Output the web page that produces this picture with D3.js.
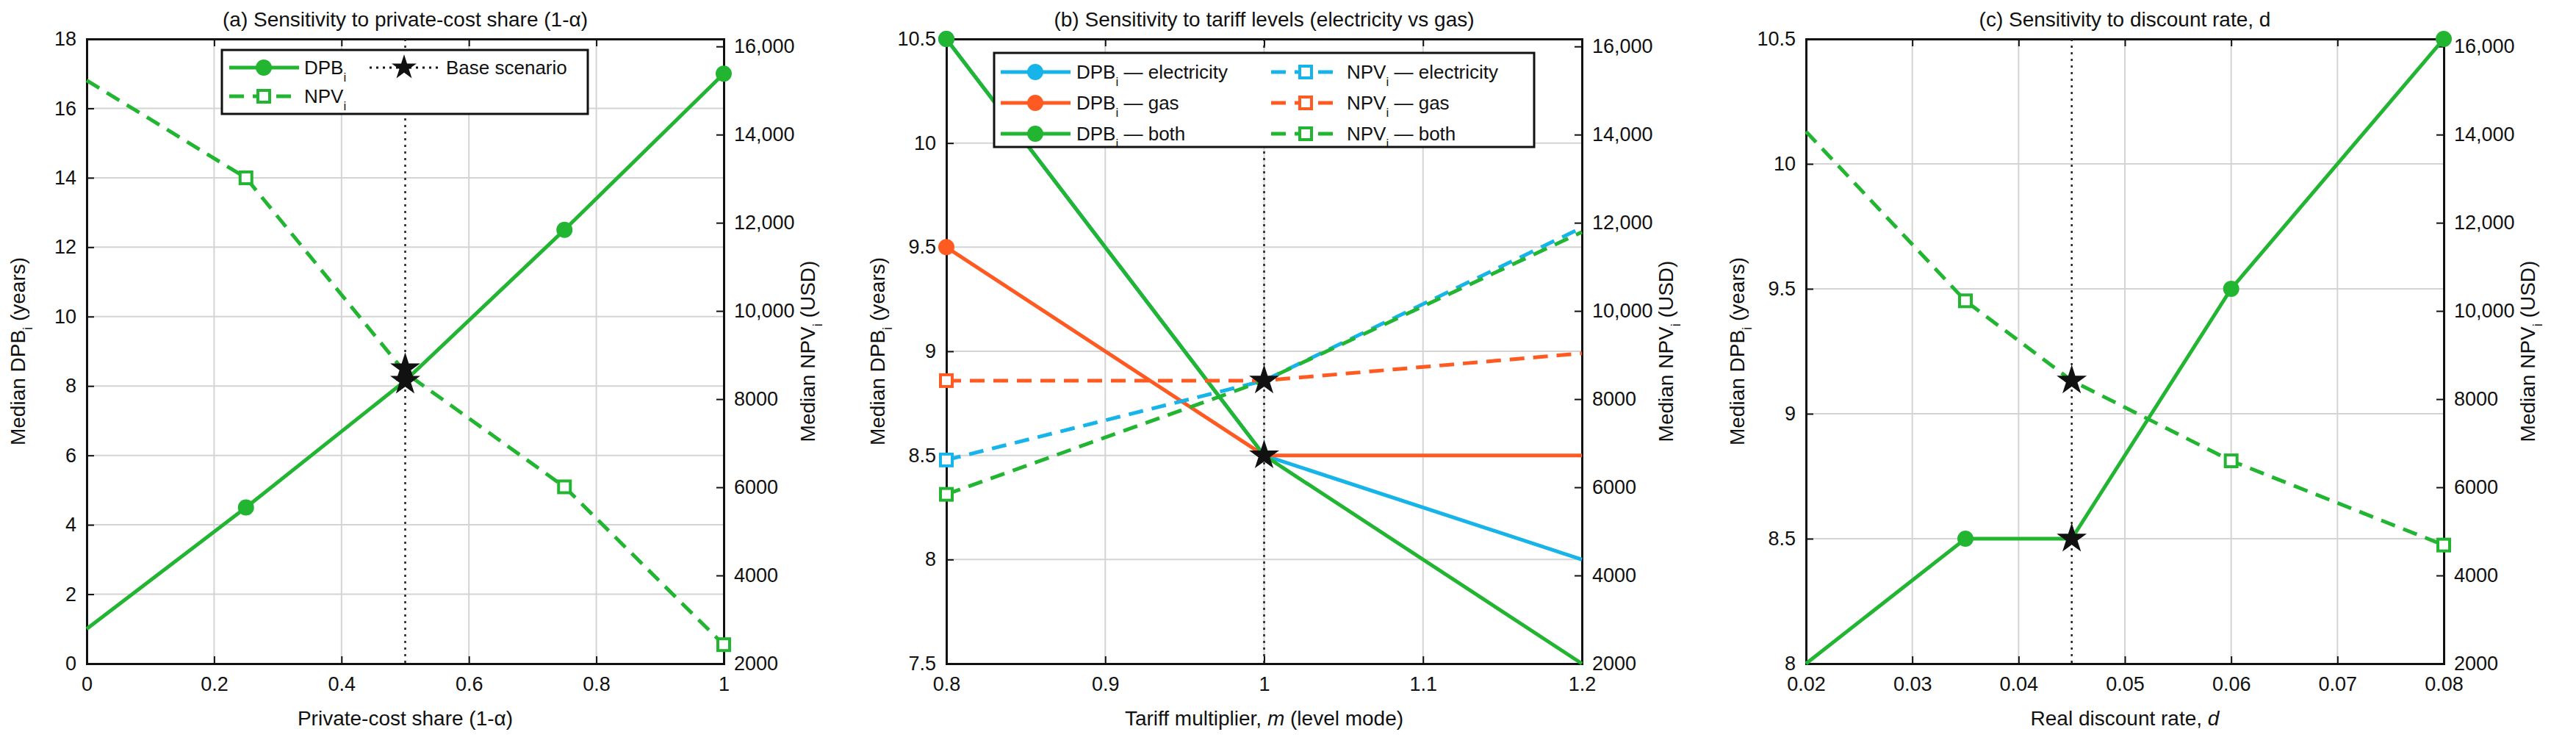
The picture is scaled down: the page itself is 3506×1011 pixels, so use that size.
<!DOCTYPE html>
<html>
<head>
  <style>
    html, body { margin: 0; padding: 0; background: #fff; }
    text { font-family: "Liberation Sans", Arial, sans-serif; fill: #111; }
    .grid line { stroke: #d4d4d4; stroke-width: 2; }
  </style>
  <script src="https://d3js.org/d3.v7.min.js"></script>
</head>
<body>
<svg id="fig" width="3506" height="1011"></svg>
<script>
    const green = "#22b532", blue = "#17b4ea", orange = "#ff5a22";

    // (a) private-cost share
    const aX = [0, 0.25, 0.5, 0.75, 1];
    const aDPB = [1, 4.5, 8.15, 12.5, 17];
    const aNPV = [15230, 13020, 8600, 6010, 2430];
    const aBase = { x: 0.5, dpb: 8.15, npv: 8700 };

    // (b) tariff multiplier
    const bX = [0.8, 1, 1.2];
    const bDPBelec = [10.5, 8.5, 8.0];
    const bDPBgas = [9.5, 8.5, 8.5];
    const bDPBboth = [10.5, 8.5, 7.5];
    const bNPVelec = [6620, 8420, 11890];
    const bNPVgas = [8420, 8420, 9040];
    const bNPVboth = [5840, 8420, 11790];
    const bBase = { x: 1, dpb: 8.5, npv: 8420 };

    // (c) discount rate
    const cX = [0.02, 0.035, 0.045, 0.06, 0.08];
    const cDPB = [8, 8.5, 8.5, 9.5, 10.5];
    const cNPV = [14070, 10230, 8420, 6600, 4690];
    const cBase = { x: 0.045, dpb: 8.5, npv: 8420 };

    const rightTicks = [2000, 4000, 6000, 8000, 10000, 12000, 14000, 16000];
    const fmtRight = v => v >= 10000 ? d3.format(",")(v) : String(v);

    const svg = d3.select("#fig");
    const plotTop = 53, plotBottom = 903;

    function subLabel(g, parts) {
      // parts: array of [text, isSub]
      parts.forEach(([t, sub]) => {
        const ts = g.append("tspan").text(t);
        if (sub) ts.attr("baseline-shift", "sub").attr("font-size", "0.65em");
      });
    }

    function panel(p) {
      const g = svg.append("g");
      const x = d3.scaleLinear().domain(p.xDomain).range([p.left, p.right]);
      const y = d3.scaleLinear().domain(p.yDomain).range([plotBottom, plotTop]);
      const y2 = d3.scaleLinear().domain([2000, 16170]).range([plotBottom, plotTop]);

      // grid
      const grid = g.append("g").attr("class", "grid");
      grid.selectAll(".gx").data(p.xTicks).enter().append("line")
        .attr("x1", d => x(d)).attr("x2", d => x(d)).attr("y1", plotTop).attr("y2", plotBottom);
      grid.selectAll(".gy").data(p.yTicks).enter().append("line")
        .attr("x1", p.left).attr("x2", p.right).attr("y1", d => y(d)).attr("y2", d => y(d));

      // axes (inward ticks)
      g.append("g").attr("transform", `translate(0,${plotBottom})`)
        .call(d3.axisBottom(x).tickValues(p.xTicks).tickSize(-10).tickPadding(18).tickFormat(p.xFmt));
      g.append("g").attr("transform", `translate(0,${plotTop})`)
        .call(d3.axisTop(x).tickValues(p.xTicks).tickSize(-10).tickFormat(""));
      g.append("g").attr("transform", `translate(${p.left},0)`)
        .call(d3.axisLeft(y).tickValues(p.yTicks).tickSize(-10).tickPadding(14).tickFormat(p.yFmt));
      g.append("g").attr("transform", `translate(${p.right},0)`)
        .call(d3.axisRight(y2).tickValues(rightTicks).tickSize(-10).tickPadding(14).tickFormat(fmtRight));
      g.selectAll(".domain").attr("stroke", "#111").attr("stroke-width", 3);
      g.selectAll(".tick line").attr("stroke", "#111").attr("stroke-width", 2);
      g.selectAll(".tick text").attr("font-size", "27px").attr("fill", "#111")
        .attr("font-family", "Liberation Sans, Arial, sans-serif");

      // base vertical dotted line
      g.append("line").attr("x1", x(p.base.x)).attr("x2", x(p.base.x))
        .attr("y1", plotTop).attr("y2", plotBottom)
        .attr("stroke", "#222").attr("stroke-width", 2.5).attr("stroke-dasharray", "3,6");

      // series
      p.series.forEach(s => {
        const sc = s.right ? y2 : y;
        const pts = p.xs.map((v, i) => [x(v), sc(s.values[i])]);
        g.append("path").datum(pts)
          .attr("d", d3.line())
          .attr("fill", "none").attr("stroke", s.color).attr("stroke-width", 5)
          .attr("stroke-dasharray", s.right ? "20,12" : null);
        s.markers.forEach(i => {
          const [px, py] = pts[i];
          if (s.right) {
            g.append("rect").attr("x", px - 8).attr("y", py - 8).attr("width", 16).attr("height", 16)
              .attr("fill", "#fff").attr("stroke", s.color).attr("stroke-width", 4);
          } else {
            g.append("circle").attr("cx", px).attr("cy", py).attr("r", 11).attr("fill", s.color);
          }
        });
      });

      // base stars
      const star = d3.symbol().type(d3.symbolStar).size(520);
      [y(p.base.dpb), y2(p.base.npv)].forEach(py => {
        g.append("path").attr("d", star).attr("transform", `translate(${x(p.base.x)},${py})`)
          .attr("fill", "#111");
      });

      // title & labels
      g.append("text").attr("x", (p.left + p.right) / 2).attr("y", 36)
        .attr("text-anchor", "middle").attr("font-size", "28px").text(p.title);
      const xl = g.append("text").attr("x", (p.left + p.right) / 2).attr("y", 987)
        .attr("text-anchor", "middle").attr("font-size", "28px");
      p.xLabel.forEach(([t, it]) => { const ts = xl.append("tspan").text(t); if (it) ts.attr("font-style", "italic"); });
      const yl = g.append("text").attr("transform", `translate(${p.left - 84},${(plotTop + plotBottom) / 2}) rotate(-90)`)
        .attr("text-anchor", "middle").attr("font-size", "28px");
      subLabel(yl, [["Median DPB", false], ["i", true], [" (years)", false]]);
      const yr = g.append("text").attr("transform", `translate(${p.right + 124},${(plotTop + plotBottom) / 2}) rotate(-90)`)
        .attr("text-anchor", "middle").attr("font-size", "28px");
      subLabel(yr, [["Median NPV", false], ["i", true], [" (USD)", false]]);

      if (p.legend) p.legend(g);
    }

    function legendLine(g, x0, yy, color, dashed, marker) {
      g.append("line").attr("x1", x0).attr("x2", x0 + 95).attr("y1", yy).attr("y2", yy)
        .attr("stroke", color).attr("stroke-width", marker === "star" ? 3 : 5)
        .attr("stroke-dasharray", dashed ? "20,12" : (marker === "star" ? "3,6" : null));
      const cx = x0 + 47;
      if (marker === "circle") g.append("circle").attr("cx", cx).attr("cy", yy).attr("r", 11).attr("fill", color);
      if (marker === "square") g.append("rect").attr("x", cx - 8).attr("y", yy - 8).attr("width", 16).attr("height", 16)
        .attr("fill", "#fff").attr("stroke", color).attr("stroke-width", 4);
      if (marker === "star") g.append("path").attr("d", d3.symbol().type(d3.symbolStar).size(360))
        .attr("transform", `translate(${cx},${yy})`).attr("fill", "#111");
    }
    function legendText(g, x0, yy, name, rest) {
      const t = g.append("text").attr("x", x0).attr("y", yy + 9).attr("font-size", "26px");
      subLabel(t, [[name, false], ["i", true], [rest, false]]);
    }

    panel({
      left: 118, right: 985, xDomain: [0, 1], yDomain: [0, 18],
      xTicks: [0, 0.2, 0.4, 0.6, 0.8, 1], yTicks: d3.range(0, 19, 2),
      xFmt: d => String(d), yFmt: d => String(d),
      xs: aX, base: aBase,
      title: "(a) Sensitivity to private-cost share (1-\u03b1)",
      xLabel: [["Private-cost share (1-\u03b1)", false]],
      series: [
        { values: aDPB, color: green, right: false, markers: [1, 3, 4] },
        { values: aNPV, color: green, right: true, markers: [1, 3, 4] }
      ],
      legend: g => {
        g.append("rect").attr("x", 302).attr("y", 68).attr("width", 498).attr("height", 87)
          .attr("fill", "#fff").attr("stroke", "#111").attr("stroke-width", 3);
        legendLine(g, 312, 92, green, false, "circle"); legendText(g, 414, 92, "DPB", "");
        legendLine(g, 312, 131, green, true, "square"); legendText(g, 414, 131, "NPV", "");
        legendLine(g, 503, 92, "#111", false, "star");
        g.append("text").attr("x", 607).attr("y", 101).attr("font-size", "26px").text("Base scenario");
      }
    });

    panel({
      left: 1288, right: 2153, xDomain: [0.8, 1.2], yDomain: [7.5, 10.5],
      xTicks: [0.8, 0.9, 1, 1.1, 1.2], yTicks: [7.5, 8, 8.5, 9, 9.5, 10, 10.5],
      xFmt: d => String(+d.toFixed(2)), yFmt: d => String(d),
      xs: bX, base: bBase,
      title: "(b) Sensitivity to tariff levels (electricity vs gas)",
      xLabel: [["Tariff multiplier, ", false], ["m", true], [" (level mode)", false]],
      series: [
        { values: bDPBelec, color: blue, right: false, markers: [0] },
        { values: bDPBgas, color: orange, right: false, markers: [0] },
        { values: bDPBboth, color: green, right: false, markers: [0] },
        { values: bNPVelec, color: blue, right: true, markers: [0] },
        { values: bNPVgas, color: orange, right: true, markers: [0] },
        { values: bNPVboth, color: green, right: true, markers: [0] }
      ],
      legend: g => {
        g.append("rect").attr("x", 1353).attr("y", 72).attr("width", 735).attr("height", 128)
          .attr("fill", "#fff").attr("stroke", "#111").attr("stroke-width", 3);
        const rows = [[blue, "electricity"], [orange, "gas"], [green, "both"]];
        rows.forEach(([c, n], i) => {
          const yy = 98 + i * 42;
          legendLine(g, 1362, yy, c, false, "circle"); legendText(g, 1465, yy, "DPB", " \u2014 " + n);
          legendLine(g, 1730, yy, c, true, "square"); legendText(g, 1833, yy, "NPV", " \u2014 " + n);
        });
      }
    });

    panel({
      left: 2458, right: 3326, xDomain: [0.02, 0.08], yDomain: [8, 10.5],
      xTicks: [0.02, 0.03, 0.04, 0.05, 0.06, 0.07, 0.08], yTicks: [8, 8.5, 9, 9.5, 10, 10.5],
      xFmt: d => String(+d.toFixed(2)), yFmt: d => String(d),
      xs: cX, base: cBase,
      title: "(c) Sensitivity to discount rate, d",
      xLabel: [["Real discount rate, ", false], ["d", true]],
      series: [
        { values: cDPB, color: green, right: false, markers: [1, 3, 4] },
        { values: cNPV, color: green, right: true, markers: [1, 3, 4] }
      ]
    });
</script>
</body>
</html>
